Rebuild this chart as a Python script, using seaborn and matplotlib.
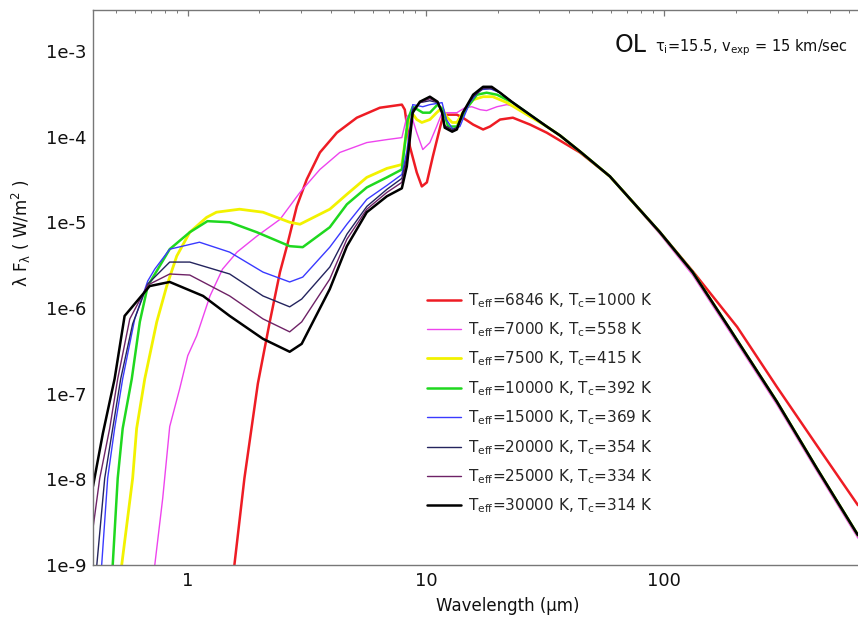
import numpy as np
import pandas as pd
import matplotlib
matplotlib.use("Agg")
import matplotlib.pyplot as plt
from matplotlib.ticker import LogLocator, FixedLocator, FuncFormatter, NullFormatter
import seaborn as sns

# ---------------- data (wavelength in micron, lambda*F_lambda in W/m^2) ----------------
labels = [
    r"$T_{eff}$=6846 K, $T_c$=1000 K",
    r"$T_{eff}$=7000 K, $T_c$=558 K",
    r"$T_{eff}$=7500 K, $T_c$=415 K",
    r"$T_{eff}$=10000 K, $T_c$=392 K",
    r"$T_{eff}$=15000 K, $T_c$=369 K",
    r"$T_{eff}$=20000 K, $T_c$=354 K",
    r"$T_{eff}$=25000 K, $T_c$=334 K",
    r"$T_{eff}$=30000 K, $T_c$=314 K",
]
colors = ["#ee1c24", "#ee44ee", "#f2f200", "#1fd81f", "#3a3aff", "#24245e", "#6e2266", "#000000"]
widths = [1.8, 1.0, 2.0, 1.8, 1.0, 1.0, 1.0, 1.8]

x_ticks = [1, 10, 100]
y_ticks = [1e-9, 1e-8, 1e-7, 1e-6, 1e-5, 1e-4, 1e-3]

# common far-IR tail shared by the hotter models
tail_wl = [32.2, 36.6, 44.4, 59.3, 96.2, 132, 189, 298, 439, 653]
tail_f = [1.31e-4, 1.03e-4, 6.70e-5, 3.43e-5, 7.65e-6, 2.62e-6, 5.70e-7, 8.07e-8, 1.34e-8, 2.23e-9]
tail_f_7000 = [1.31e-4, 1.03e-4, 6.70e-5, 3.43e-5, 7.25e-6, 2.42e-6, 5.26e-7, 7.45e-8, 1.24e-8, 2.06e-9]

wl_6846 = [1.57, 1.73, 1.97, 2.21, 2.44, 2.61, 2.87, 3.16, 3.59, 4.23, 5.13, 6.41, 7.93, 8.16, 8.57,
           9.16, 9.62, 10.1, 10.7, 11.5, 11.8, 12.2, 13.5, 14.3, 15.8, 17.4, 18.6, 20.5, 23.2, 27.4,
           32.2, 44.4, 59.3, 96.2, 132, 203, 298, 439, 653]
f_6846 = [1.0e-9, 1.03e-8, 1.31e-7, 6.87e-7, 2.62e-6, 5.26e-6, 1.53e-5, 3.16e-5, 6.52e-5, 1.11e-4,
          1.66e-4, 2.17e-4, 2.36e-4, 2.06e-4, 7.65e-5, 3.81e-5, 2.62e-5, 2.92e-5, 5.85e-5, 1.31e-4,
          1.71e-4, 1.80e-4, 1.80e-4, 1.66e-4, 1.38e-4, 1.21e-4, 1.31e-4, 1.58e-4, 1.66e-4, 1.38e-4,
          1.11e-4, 6.52e-5, 3.43e-5, 7.65e-6, 2.69e-6, 6.01e-7, 1.20e-7, 2.48e-8, 4.99e-9]

wl_7000 = [0.727, 0.785, 0.840, 0.925, 1.0, 1.09, 1.24, 1.40, 1.61, 1.95, 2.44, 2.96, 3.59, 4.35, 5.65,
           6.86, 7.93, 8.32, 8.57, 8.73, 9.16, 9.71, 10.4, 11.1, 11.7, 12.2, 13.5, 14.6, 15.6, 16.9,
           18.0, 19.9, 21.9, 24.8]
f_7000 = [1.0e-9, 6.01e-9, 4.13e-8, 1.14e-7, 2.77e-7, 4.72e-7, 1.38e-6, 2.84e-6, 4.48e-6, 6.87e-6,
          1.08e-5, 2.23e-5, 4.13e-5, 6.52e-5, 8.51e-5, 9.22e-5, 9.73e-5, 1.71e-4, 1.80e-4, 1.71e-4,
          1.11e-4, 7.06e-5, 8.51e-5, 1.31e-4, 1.90e-4, 1.90e-4, 1.90e-4, 2.17e-4, 2.23e-4, 2.06e-4,
          2.01e-4, 2.23e-4, 2.36e-4, 2.17e-4]

wl_7500 = [0.528, 0.587, 0.610, 0.660, 0.741, 0.816, 0.899, 1.02, 1.20, 1.32, 1.65, 2.07, 2.68, 2.96,
           3.95, 4.66, 5.65, 6.86, 7.93, 8.32, 8.73, 9.16, 9.62, 10.4, 11.1, 11.7, 12.2, 12.9, 13.5,
           14.3, 15.8, 17.4, 19.1, 21.9]
f_7500 = [1.0e-9, 1.03e-8, 3.92e-8, 1.49e-7, 6.87e-7, 1.80e-6, 4.03e-6, 7.65e-6, 1.14e-5, 1.31e-5,
          1.42e-5, 1.31e-5, 1.00e-5, 9.48e-6, 1.42e-5, 2.12e-5, 3.34e-5, 4.25e-5, 4.72e-5, 1.21e-4,
          1.90e-4, 1.58e-4, 1.46e-4, 1.58e-4, 1.90e-4, 2.17e-4, 1.71e-4, 1.46e-4, 1.46e-4, 1.90e-4,
          2.69e-4, 2.92e-4, 2.92e-4, 2.49e-4]

wl_10000 = [0.484, 0.508, 0.533, 0.582, 0.629, 0.679, 0.840, 1.02, 1.21, 1.50, 1.95, 2.68, 3.04, 3.95,
            4.66, 5.65, 6.86, 7.93, 8.40, 8.81, 9.71, 10.4, 11.2, 11.8, 12.4, 13.5, 14.9, 16.4, 18.0,
            19.9, 23.2]
f_10000 = [1.0e-9, 1.03e-8, 3.92e-8, 1.49e-7, 6.87e-7, 1.80e-6, 4.85e-6, 7.65e-6, 1.03e-5, 1.00e-5,
           7.65e-6, 5.26e-6, 5.12e-6, 8.75e-6, 1.62e-5, 2.55e-5, 3.34e-5, 4.13e-5, 1.58e-4, 2.23e-4,
           1.90e-4, 1.90e-4, 2.36e-4, 2.06e-4, 1.31e-4, 1.31e-4, 2.17e-4, 3.08e-4, 3.25e-4, 3.08e-4,
           2.49e-4]

wl_15000 = [0.435, 0.461, 0.493, 0.533, 0.599, 0.679, 0.727, 0.840, 1.12, 1.50, 2.07, 2.68, 3.04, 3.95,
            4.66, 5.65, 6.86, 7.93, 8.32, 8.81, 9.71, 10.4, 11.7, 12.2, 13.0, 13.9, 15.3, 16.9, 18.6,
            20.5, 23.2]
f_15000 = [1.0e-9, 1.03e-8, 3.92e-8, 1.49e-7, 7.45e-7, 2.06e-6, 2.84e-6, 4.85e-6, 5.85e-6, 4.48e-6,
           2.62e-6, 2.01e-6, 2.29e-6, 5.12e-6, 9.48e-6, 1.85e-5, 2.69e-5, 3.61e-5, 6.70e-5, 2.36e-4,
           2.23e-4, 2.36e-4, 2.49e-4, 1.58e-4, 1.21e-4, 1.31e-4, 2.49e-4, 3.52e-4, 3.62e-4, 3.25e-4,
           2.49e-4]

wl_20000 = [0.415, 0.448, 0.484, 0.523, 0.587, 0.679, 0.840, 1.02, 1.50, 2.07, 2.68, 3.01, 3.95, 4.66,
            5.65, 6.86, 7.93, 8.32, 8.81, 9.44, 10.4, 11.2, 11.7, 12.0, 12.9, 13.5, 14.3, 15.8, 17.4,
            18.9, 20.5, 23.2]
f_20000 = [1.0e-9, 1.03e-8, 3.92e-8, 1.49e-7, 6.52e-7, 1.90e-6, 3.43e-6, 3.43e-6, 2.49e-6, 1.38e-6,
           1.03e-6, 1.27e-6, 3.00e-6, 7.25e-6, 1.53e-5, 2.42e-5, 3.25e-5, 5.70e-5, 2.06e-4, 2.49e-4,
           2.62e-4, 2.49e-4, 1.95e-4, 1.34e-4, 1.21e-4, 1.27e-4, 1.90e-4, 2.92e-4, 3.62e-4, 3.62e-4,
           3.25e-4, 2.49e-4]

wl_25000 = [0.40, 0.427, 0.470, 0.508, 0.571, 0.679, 0.840, 1.02, 1.50, 2.07, 2.68, 3.01, 3.95, 4.66,
            5.65, 6.86, 7.93, 8.32, 8.81, 9.44, 10.4, 11.2, 11.7, 12.0, 12.9, 13.5, 14.3, 15.8, 17.4,
            18.9, 20.5, 23.2]
f_25000 = [2.69e-9, 1.03e-8, 3.92e-8, 1.49e-7, 7.45e-7, 1.85e-6, 2.49e-6, 2.42e-6, 1.38e-6, 7.45e-7,
           5.26e-7, 6.87e-7, 2.17e-6, 6.34e-6, 1.42e-5, 2.23e-5, 2.92e-5, 5.41e-5, 1.95e-4, 2.49e-4,
           2.77e-4, 2.49e-4, 1.90e-4, 1.31e-4, 1.17e-4, 1.24e-4, 1.90e-4, 3.00e-4, 3.72e-4, 3.72e-4,
           3.25e-4, 2.49e-4]

wl_30000 = [0.40, 0.440, 0.493, 0.543, 0.692, 0.840, 1.16, 1.50, 2.07, 2.68, 3.01, 3.95, 4.66, 5.65,
            6.86, 7.93, 8.32, 8.81, 9.44, 10.4, 11.2, 11.7, 12.0, 12.9, 13.5, 14.3, 15.8, 17.4, 18.9,
            20.5, 23.2]
f_30000 = [8.30e-9, 3.43e-8, 1.49e-7, 8.07e-7, 1.80e-6, 2.01e-6, 1.38e-6, 8.07e-7, 4.36e-7, 3.08e-7,
           3.81e-7, 1.66e-6, 5.26e-6, 1.31e-5, 2.01e-5, 2.49e-5, 4.48e-5, 1.90e-4, 2.55e-4, 2.92e-4,
           2.55e-4, 1.90e-4, 1.27e-4, 1.14e-4, 1.21e-4, 1.90e-4, 3.08e-4, 3.81e-4, 3.81e-4, 3.25e-4,
           2.49e-4]

series = [
    (wl_6846, f_6846),
    (wl_7000 + tail_wl, f_7000 + tail_f_7000),
    (wl_7500 + tail_wl, f_7500 + tail_f),
    (wl_10000 + tail_wl, f_10000 + tail_f),
    (wl_15000 + tail_wl, f_15000 + tail_f),
    (wl_20000 + tail_wl, f_20000 + tail_f),
    (wl_25000 + tail_wl, f_25000 + tail_f),
    (wl_30000 + tail_wl, f_30000 + tail_f),
]

rows = []
for lab, (w, f) in zip(labels, series):
    for i, (a, b) in enumerate(zip(w, f)):
        rows.append({"model": lab, "order": i, "wl": a, "flux": b})
df = pd.DataFrame(rows)

# ---------------- styling ----------------
sns.set_style("white")
plt.rcParams["font.family"] = ["DejaVu Sans"]
plt.rcParams["mathtext.fontset"] = "dejavusans"
plt.rcParams["mathtext.default"] = "regular"

W, H = 858, 621
fig = plt.figure(figsize=(W / 100, H / 100), dpi=100)
ax = fig.add_axes([93 / W, (H - 565) / H, (923 - 93) / W, (565 - 10) / H])

for lab, col, lw in zip(labels, colors, widths):
    sub = df[df["model"] == lab]
    sns.lineplot(data=sub, x="wl", y="flux", ax=ax, color=col, linewidth=lw,
                 label=lab, sort=False, estimator=None)

ax.set_xscale("log")
ax.set_yscale("log")
ax.set_xlim(0.4, 1225)
ax.set_ylim(1e-9, 3e-3)

ax.xaxis.set_major_locator(FixedLocator(x_ticks))
ax.xaxis.set_minor_locator(LogLocator(base=10, subs=np.arange(2, 10)))
ax.yaxis.set_major_locator(FixedLocator(y_ticks))
ax.yaxis.set_minor_locator(LogLocator(base=10, subs=np.arange(2, 10)))
ax.xaxis.set_major_formatter(FuncFormatter(lambda v, p: "%g" % v))
ax.yaxis.set_major_formatter(FuncFormatter(lambda v, p: "1e%d" % int(round(np.log10(v)))))
ax.xaxis.set_minor_formatter(NullFormatter())
ax.yaxis.set_minor_formatter(NullFormatter())

spine_col = "#777777"
for s in ["left", "bottom", "top", "right"]:
    ax.spines[s].set_color(spine_col)
    ax.spines[s].set_linewidth(1.0)
ax.tick_params(which="both", direction="in", top=True, right=True, colors=spine_col,
               labelcolor="#111111", labelsize=13)
ax.tick_params(which="major", length=4.5, width=0.9, pad=5)
ax.tick_params(which="minor", length=2.5, width=0.7)

ax.set_xlabel("Wavelength (μm)", fontsize=12, color="#111111")
ax.set_ylabel(r"$\lambda$ F$_\lambda$ ( W/m$^2$ )", fontsize=12, color="#111111")
ax.xaxis.set_label_coords((508 - 93) / 830, -(597 - 565) / 555)
ax.yaxis.set_label_coords((33 - 93) / 830, (565 - 233) / 555)

leg = ax.legend(loc="upper left", bbox_to_anchor=(427 / W, 1 - 291 / H),
                bbox_transform=fig.transFigure, frameon=False, fontsize=11,
                handlelength=2.2, handletextpad=0.5, labelspacing=0.70,
                borderpad=0, borderaxespad=0)

fig.text(615 / W, 1 - 52 / H, "OL", fontsize=17, color="#111111", ha="left", va="baseline")
fig.text(655 / W, 1 - 51 / H, r"$\tau_i$=15.5, v$_{exp}$ = 15 km/sec", fontsize=10.5,
         color="#111111", ha="left", va="baseline")

fig.savefig("out.png", dpi=100)
